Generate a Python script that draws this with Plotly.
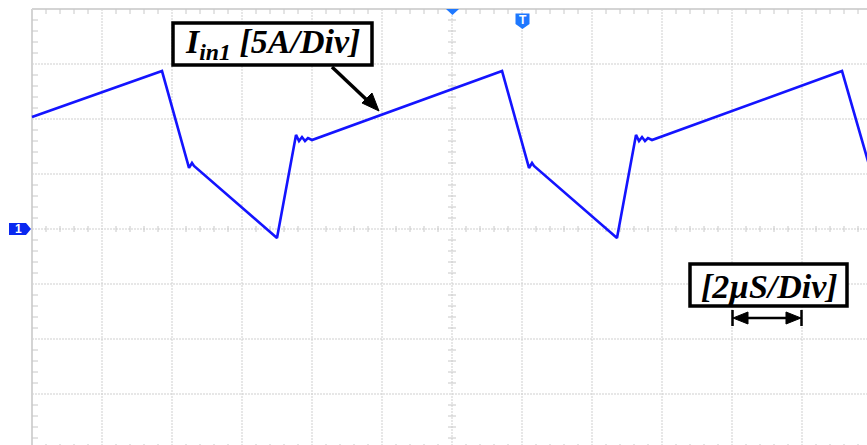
import plotly.graph_objects as go

# Canvas and graticule geometry (2 µs/div horizontally, 5 A/div vertically)
W, H = 867, 445
X_DIV_PX, Y_DIV_PX = 70, 55
LEFT_PX, CENTER_PX = 32, 229
T_PER_DIV, I_PER_DIV = 2.0, 5.0
N_XDIV, N_YDIV = 12, 8

# Channel 1 input current trace: time in µs, current in A
t_us = [0.000, 3.714, 4.486, 4.571, 4.629, 7.000, 7.543, 7.629, 7.714, 7.800,
        7.886, 8.000, 13.43, 14.200, 14.286, 14.343, 16.714, 17.257, 17.343,
        17.429, 17.514, 17.600, 17.714, 23.143, 24.000]
i_amp = [10.18, 14.36, 5.55, 6.00, 5.73, -0.82, 8.55, 8.00, 8.36, 8.00,
         8.27, 8.09, 14.36, 5.55, 6.00, 5.73, -0.82, 8.55, 8.00,
         8.36, 8.00, 8.27, 8.09, 14.36, 4.90]

label_current = "<b><i>I<sub>in1</sub> [5A/Div]</i></b>"
label_time = "<b><i>[2µS/Div]</i></b>"

xs = T_PER_DIV / X_DIV_PX   # µs per pixel
ys = I_PER_DIV / Y_DIV_PX   # A per pixel
x_range = [-LEFT_PX * xs, (W - LEFT_PX) * xs]
y_range = [(CENTER_PX - H) * ys, CENTER_PX * ys]
t_max = N_XDIV * T_PER_DIV
i_top = N_YDIV / 2 * I_PER_DIV


def px(x):
    return x / W


def py(y):
    return 1 - y / H


def path(points):
    return "M " + " L ".join(f"{px(x):.5f},{py(y):.5f}" for x, y in points) + " Z"


def label(x, y, text, **font):
    fig.add_annotation(x=px(x), y=py(y), xref="paper", yref="paper", text=text,
                       showarrow=False, xanchor="center", yanchor="middle",
                       font=font)


fig = go.Figure()

GRID = "#cfcfcf"
BORDER = "#d4d4d4"

# Dotted graticule
for k in range(1, N_XDIV):
    fig.add_shape(type="line", x0=k * T_PER_DIV, x1=k * T_PER_DIV, y0=-i_top, y1=i_top,
                  line=dict(color=GRID, width=1, dash="2px,1px"), layer="below")
for k in range(-3, 4):
    fig.add_shape(type="line", x0=0, x1=t_max, y0=k * I_PER_DIV, y1=k * I_PER_DIV,
                  line=dict(color=GRID, width=1, dash="2px,1px"), layer="below")

# Solid left and top borders
fig.add_shape(type="line", x0=0, x1=0, y0=-i_top, y1=i_top,
              line=dict(color=BORDER, width=2), layer="below")
fig.add_shape(type="line", x0=0, x1=t_max, y0=i_top, y1=i_top,
              line=dict(color=BORDER, width=2), layer="below")

# Minor ticks: 5 per division on borders and centre axes
tx, ty = [], []
dt_minor = T_PER_DIV / 5
di_minor = I_PER_DIV / 5
tc = N_XDIV / 2 * T_PER_DIV
for k in range(1, N_XDIV * 5):
    if k % 5 == 0:
        continue
    t = k * dt_minor
    tx += [t, t, None, t, t, None, t, t, None]
    ty += [i_top, i_top - 5 * ys, None,
           -i_top, -i_top + 5 * ys, None,
           -3 * ys, 3 * ys, None]
for k in range(-N_YDIV // 2 * 5 + 1, N_YDIV // 2 * 5):
    if k % 5 == 0:
        continue
    i = k * di_minor
    tx += [0, 6 * xs, None, tc - 4 * xs, tc + 4 * xs, None]
    ty += [i, i, None, i, i, None]
fig.add_trace(go.Scatter(x=tx, y=ty, mode="lines", line=dict(color="#c8c8c8", width=1),
                         hoverinfo="skip", showlegend=False))

# Current waveform
fig.add_trace(go.Scatter(x=t_us, y=i_amp, mode="lines",
                         line=dict(color="#1414ff", width=2.6),
                         hoverinfo="skip", showlegend=False))

BLUE = "#0a28f0"
# Channel 1 ground marker
fig.add_shape(type="path", xref="paper", yref="paper",
              path=path([(9, 223), (26, 223), (31, 229), (26, 235), (9, 235)]),
              fillcolor=BLUE, line=dict(width=0))
label(18, 229, "<b>1</b>", family="Liberation Sans", size=12, color="white")
# Trigger position and trigger level markers
fig.add_shape(type="path", xref="paper", yref="paper",
              path=path([(446, 9), (459, 9), (452.5, 15)]),
              fillcolor="#1e78ff", line=dict(width=0))
fig.add_shape(type="path", xref="paper", yref="paper",
              path=path([(515.5, 13.5), (529.5, 13.5), (529.5, 24), (522.5, 29), (515.5, 24)]),
              fillcolor="#1e78ff", line=dict(width=0))
label(522.5, 20, "<b>T</b>", family="Liberation Sans", size=12, color="white")

# Label boxes
fig.add_shape(type="rect", xref="paper", yref="paper",
              x0=px(173), x1=px(372), y0=py(23), y1=py(65),
              line=dict(color="black", width=3.5), fillcolor="white")
label(272, 44, label_current, family="Liberation Serif", size=34, color="black")
fig.add_shape(type="rect", xref="paper", yref="paper",
              x0=px(690), x1=px(847), y0=py(264), y1=py(306),
              line=dict(color="black", width=3.5), fillcolor="white")
label(769, 286, label_time, family="Liberation Serif", size=34, color="black")

# Pointer arrow to the trace
fig.add_shape(type="line", xref="paper", yref="paper",
              x0=px(332), y0=py(67), x1=px(369), y1=py(102),
              line=dict(color="black", width=3.5))
fig.add_shape(type="path", xref="paper", yref="paper",
              path=path([(379, 111), (362, 103), (372, 93)]),
              fillcolor="black", line=dict(color="black", width=1))

# One-division time scale bar
fig.add_shape(type="line", xref="paper", yref="paper",
              x0=px(742), y0=py(318), x1=px(792), y1=py(318),
              line=dict(color="black", width=2.5))
fig.add_shape(type="path", xref="paper", yref="paper",
              path=path([(733, 318), (748, 312), (748, 324)]),
              fillcolor="black", line=dict(color="black", width=1))
fig.add_shape(type="path", xref="paper", yref="paper",
              path=path([(801, 318), (786, 312), (786, 324)]),
              fillcolor="black", line=dict(color="black", width=1))
for xb in (732.5, 801.5):
    fig.add_shape(type="line", xref="paper", yref="paper",
                  x0=px(xb), x1=px(xb), y0=py(310), y1=py(326),
                  line=dict(color="black", width=2.5))

fig.update_layout(
    width=W, height=H,
    margin=dict(l=0, r=0, t=0, b=0),
    paper_bgcolor="white", plot_bgcolor="white",
    xaxis=dict(range=x_range, visible=False, fixedrange=True),
    yaxis=dict(range=y_range, visible=False, fixedrange=True),
    showlegend=False,
)

fig.write_html("out.html")
